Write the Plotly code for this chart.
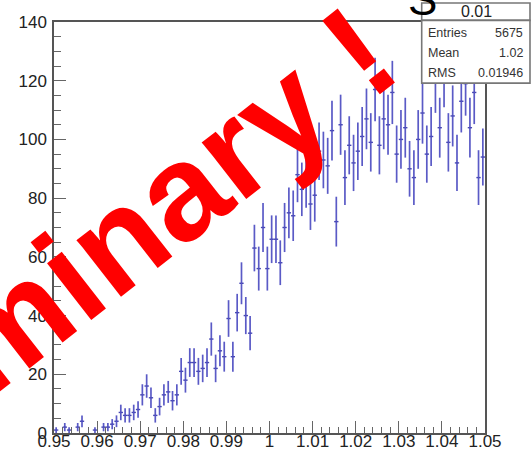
import numpy as np
import plotly.graph_objects as go

# Histogram definition: 100 bins from 0.95 to 1.05
x_min, x_max, n_bins = 0.95, 1.05, 100

counts = [
    1, 0, 2, 1, 0, 2, 4, 0, 0, 1,
    0, 2, 2, 3, 4, 7, 6, 6, 7, 8,
    13, 16, 12, 6, 9, 13, 14, 11, 13, 21,
    18, 24, 24, 21, 22, 24, 32, 22, 28, 26,
    39, 26, 41, 51, 40, 34, 63, 56, 70, 56,
    66, 66, 58, 70, 75, 74, 88, 83, 86, 78,
    81, 96, 93, 91, 103, 72, 105, 87, 98, 92,
    96, 101, 107, 99, 117, 98, 107, 105, 116, 95,
    100, 104, 90, 87, 100, 109, 95, 101, 120, 104,
    122, 99, 108, 92, 113, 119, 104, 116, 87, 94,
]

x_ticks = [0.95, 0.96, 0.97, 0.98, 0.99, 1.00, 1.01, 1.02, 1.03, 1.04, 1.05]
x_tick_text = ["0.95", "0.96", "0.97", "0.98", "0.99", "1", "1.01", "1.02", "1.03", "1.04", "1.05"]
y_ticks = [0, 20, 40, 60, 80, 100, 120, 140]

stats_title = "0.01"
stats_rows = [("Entries", "5675"), ("Mean", "1.02"), ("RMS", "0.01946")]
watermark = "Preliminary !"

W, H = 531, 453
L, R, T, B = 54, 485, 22.3, 432.7
FONT = "Liberation Sans, Arial, sans-serif"

bin_w = (x_max - x_min) / n_bins
centers = x_min + bin_w * (np.arange(n_bins) + 0.5)
c = np.array(counts, dtype=float)
filled = c > 0


def px(xp):
    return (xp - L) / (R - L)


def py(yp):
    return (B - yp) / (B - T)


fig = go.Figure()
fig.add_trace(go.Scatter(
    x=centers[filled], y=c[filled], mode="markers",
    marker=dict(size=1, color="#5a5ac6"),
    error_y=dict(type="data", array=np.sqrt(c[filled]), color="#5a5ac6",
                 thickness=1.7, width=0),
    error_x=dict(type="constant", value=bin_w / 2, color="#4646b4",
                 thickness=1.4, width=0),
    hoverinfo="skip", showlegend=False,
))

axis_common = dict(
    showgrid=False, zeroline=False, showline=True, mirror=True,
    linecolor="#555555", linewidth=1.5, automargin=False,
    ticks="inside", ticklen=12, tickwidth=1.2, tickcolor="#666666",
    tickfont=dict(family=FONT, size=17, color="#222222"),
)

fig.update_xaxes(
    range=[x_min, x_max], tickvals=x_ticks, ticktext=x_tick_text,
    minor=dict(ticks="inside", ticklen=6, tickwidth=1, tickcolor="#666666", dtick=0.002),
    ticklabelstandoff=-8,
    **axis_common,
)
fig.update_yaxes(
    range=[0, 140], tickvals=y_ticks,
    minor=dict(ticks="inside", ticklen=7, tickwidth=1, tickcolor="#666666", dtick=5),
    ticklabelstandoff=2,
    **axis_common,
)

shapes = [
    dict(type="rect", xref="paper", yref="paper", layer="above",
         x0=px(421.7), x1=px(530), y0=py(20.7), y1=py(3.3),
         fillcolor="white", line=dict(color="#777777", width=1.6)),
    dict(type="rect", xref="paper", yref="paper", layer="above",
         x0=px(421.7), x1=px(530), y0=py(83.3), y1=py(20.7),
         fillcolor="white", line=dict(color="#777777", width=1.6)),
]

annotations = [
    # watermark across the frame
    dict(text=watermark, xref="paper", yref="paper", x=px(52), y=py(291),
         xanchor="center", yanchor="middle", textangle=-38, showarrow=False,
         font=dict(family=FONT, size=136, color="#ff0000", weight="bold")),
    # histogram title, mostly above the page
    dict(text="S", xref="paper", yref="paper", x=px(422), y=py(26),
         xanchor="center", yanchor="bottom", showarrow=False,
         font=dict(family=FONT, size=44, color="black")),
    dict(text=stats_title, xref="paper", yref="paper", x=px(476), y=py(12.3),
         xanchor="center", yanchor="middle", showarrow=False,
         font=dict(family=FONT, size=16, color="#222222")),
]
row_y = [33, 53.5, 73.5]
for (name, val), yy in zip(stats_rows, row_y):
    annotations.append(dict(text=name, xref="paper", yref="paper", x=px(425.5), y=py(yy),
                            xanchor="left", yanchor="middle", showarrow=False,
                            font=dict(family=FONT, size=12.5, color="#333333")))
    annotations.append(dict(text=val, xref="paper", yref="paper", x=px(524.5), y=py(yy),
                            xanchor="right", yanchor="middle", showarrow=False,
                            font=dict(family=FONT, size=12.5, color="#333333")))

fig.update_layout(
    width=W, height=H,
    margin=dict(l=L, r=W - R, t=T, b=H - B, pad=0),
    paper_bgcolor="white", plot_bgcolor="white",
    shapes=shapes, annotations=annotations,
)

fig.write_html("out.html")
